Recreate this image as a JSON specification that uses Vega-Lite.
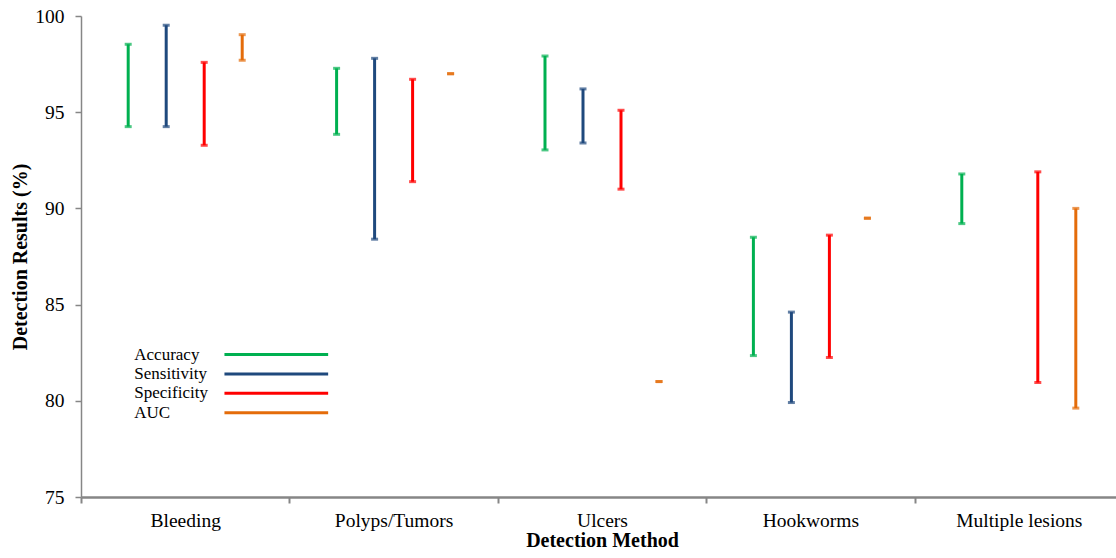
{
  "$schema": "https://vega.github.io/schema/vega-lite/v6.json",
  "width": 1042,
  "height": 481,
  "autosize": {"type": "none"},
  "padding": {"left": 81, "top": 16, "right": -7, "bottom": 61},
  "background": "white",
  "data": {
    "values": [
      {"method": "Bleeding", "metric": "Accuracy", "low": 94.25, "high": 98.53},
      {"method": "Bleeding", "metric": "Sensitivity", "low": 94.25, "high": 99.52},
      {"method": "Bleeding", "metric": "Specificity", "low": 93.28, "high": 97.59},
      {"method": "Bleeding", "metric": "AUC", "low": 97.7, "high": 99.03},
      {"method": "Polyps/Tumors", "metric": "Accuracy", "low": 93.85, "high": 97.28},
      {"method": "Polyps/Tumors", "metric": "Sensitivity", "low": 88.4, "high": 97.8},
      {"method": "Polyps/Tumors", "metric": "Specificity", "low": 91.39, "high": 96.71},
      {"method": "Polyps/Tumors", "metric": "AUC", "low": 97.0, "high": 97.0},
      {"method": "Ulcers", "metric": "Accuracy", "low": 93.04, "high": 97.92},
      {"method": "Ulcers", "metric": "Sensitivity", "low": 93.4, "high": 96.21},
      {"method": "Ulcers", "metric": "Specificity", "low": 91.0, "high": 95.1},
      {"method": "Ulcers", "metric": "AUC", "low": 81.0, "high": 81.0},
      {"method": "Hookworms", "metric": "Accuracy", "low": 82.35, "high": 88.5},
      {"method": "Hookworms", "metric": "Sensitivity", "low": 79.91, "high": 84.61},
      {"method": "Hookworms", "metric": "Specificity", "low": 82.25, "high": 88.61},
      {"method": "Hookworms", "metric": "AUC", "low": 89.49, "high": 89.49},
      {"method": "Multiple lesions", "metric": "Accuracy", "low": 89.21, "high": 91.79},
      {"method": "Multiple lesions", "metric": "Specificity", "low": 80.95, "high": 91.9},
      {"method": "Multiple lesions", "metric": "AUC", "low": 79.62, "high": 90.0}
    ]
  },
  "encoding": {
    "x": {
      "field": "method",
      "type": "nominal",
      "sort": ["Bleeding", "Polyps/Tumors", "Ulcers", "Hookworms", "Multiple lesions"],
      "scale": {"paddingInner": 0, "paddingOuter": 0},
      "axis": {
        "title": "Detection Method",
        "labelAngle": 0,
        "tickBand": "extent",
        "domainColor": "#868686",
        "domainWidth": 2.5,
        "tickColor": "#868686",
        "tickWidth": 2,
        "tickSize": 6,
        "labelPadding": 8,
        "titlePadding": 1,
        "grid": false
      }
    },
    "xOffset": {
      "field": "metric",
      "type": "nominal",
      "sort": ["Accuracy", "Sensitivity", "Specificity", "AUC"],
      "scale": {"paddingInner": 0, "paddingOuter": 0.742}
    },
    "color": {
      "field": "metric",
      "type": "nominal",
      "sort": ["Accuracy", "Sensitivity", "Specificity", "AUC"],
      "scale": {
        "domain": ["Accuracy", "Sensitivity", "Specificity", "AUC"],
        "range": ["#00B050", "#1F497D", "#FF0000", "#E46C0A"]
      },
      "legend": {
        "title": null,
        "orient": "none",
        "legendX": 143,
        "legendY": 328.5,
        "symbolType": "M-6.1,0L6.1,0",
        "symbolSize": 289,
        "symbolStrokeWidth": 3,
        "symbolOffset": 42.3,
        "rowPadding": 1.4,
        "labelOffset": -152,
        "labelAlign": "left",
        "padding": 0,
        "encode": {
          "symbols": {
            "update": {
              "stroke": {"scale": "color", "field": "value"},
              "strokeWidth": {"value": 3},
              "opacity": {"value": 1}
            }
          }
        }
      }
    }
  },
  "layer": [
    {
      "mark": {"type": "rule", "strokeWidth": 3},
      "encoding": {
        "y": {
          "field": "low",
          "type": "quantitative",
          "scale": {"domain": [75, 100], "nice": false, "zero": false},
          "axis": {
            "title": "Detection Results (%)",
            "values": [75, 80, 85, 90, 95, 100],
            "grid": false,
            "domainColor": "#868686",
            "domainWidth": 1.5,
            "tickColor": "#868686",
            "tickWidth": 1.5,
            "tickSize": 6,
            "labelPadding": 11,
            "titlePadding": 4
          }
        },
        "y2": {"field": "high"}
      }
    },
    {
      "mark": {"type": "tick", "thickness": 3, "size": 7},
      "encoding": {"y": {"field": "low", "type": "quantitative"}}
    },
    {
      "mark": {"type": "tick", "thickness": 3, "size": 7},
      "encoding": {"y": {"field": "high", "type": "quantitative"}}
    }
  ],
  "config": {
    "view": {"stroke": null},
    "font": "Liberation Serif",
    "axis": {
      "labelFont": "Liberation Serif",
      "labelFontSize": 19.5,
      "labelColor": "#000000",
      "titleFont": "Liberation Serif",
      "titleFontSize": 20,
      "titleFontWeight": "bold",
      "titleColor": "#000000"
    },
    "legend": {
      "labelFont": "Liberation Serif",
      "labelFontSize": 17,
      "labelColor": "#000000"
    }
  }
}
